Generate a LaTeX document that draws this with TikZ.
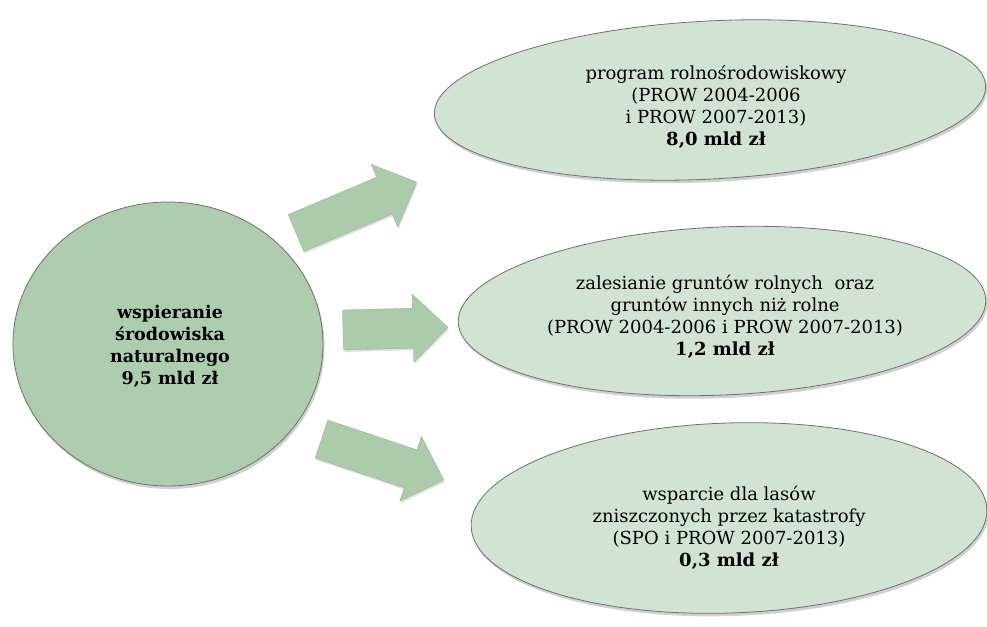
\documentclass[tikz,border=0pt]{standalone}
\usepackage{fontspec}
\setmainfont{DejaVu Serif}
\usetikzlibrary{shapes.geometric,shadows}
\definecolor{circfill}{HTML}{AECDAE}
\definecolor{ellfill}{HTML}{D1E4D4}
\definecolor{arrfill}{HTML}{ABCBAA}
\definecolor{edgecol}{HTML}{707070}
\tikzset{
  softshadow/.style={drop shadow={shadow xshift=1.5pt, shadow yshift=-3pt, opacity=0.3, fill=black!60}},
  bubble/.style={ellipse, draw=edgecol, line width=0.8pt, fill=ellfill, inner sep=0pt, softshadow},
  hub/.style={ellipse, draw=edgecol, line width=0.8pt, fill=circfill, inner sep=0pt, softshadow},
  txt/.style={align=center, font=\fontsize{18}{22}\selectfont, text=black, inner sep=0pt},
  hubtxt/.style={align=center, font=\fontsize{17.5}{22}\selectfont\bfseries, text=black, inner sep=0pt},
  blockarrow/.style={fill=arrfill, draw=arrfill!85!black, line width=0.3pt,
    drop shadow={shadow xshift=1pt, shadow yshift=-2pt, opacity=0.2, fill=black!60}}
}
\newcommand{\blockarr}[3]{%
  \begin{scope}[shift={#1}, rotate=#2]
    \path[blockarrow] (0,-20) -- ({#3-35},-20) -- ({#3-35},-34) -- (#3,0)
      -- ({#3-35},34) -- ({#3-35},20) -- (0,20) -- cycle;
  \end{scope}}
\begin{document}
\begin{tikzpicture}[x=1pt,y=-1pt]
\useasboundingbox (0,0) rectangle (987,626);
\fill[white] (0,0) rectangle (987,626);

% hub
\node[hub, minimum width=310pt, minimum height=284pt] (hub) at (168,344) {};
\node[hubtxt] (hubtext) at (170,346) {wspieranie\\środowiska\\naturalnego\\9,5 mld zł};

% target ellipses
\node[bubble, minimum width=552pt, minimum height=158pt, rotate=3] (topell) at (710,100) {};
\node[txt] (toptext) at (716,107) {program rolnośrodowiskowy\\(PROW 2004-2006\\i PROW 2007-2013)\\\textbf{8,0 mld zł}};

\node[bubble, minimum width=528pt, minimum height=168pt, rotate=2.5] (midell) at (722,311) {};
\node[txt] (midtext) at (725,317) {zalesianie gruntów rolnych~ oraz\\gruntów innych niż rolne\\(PROW 2004-2006 i PROW 2007-2013)\\\textbf{1,2 mld zł}};

\node[bubble, minimum width=516pt, minimum height=190pt, rotate=1.9] (botell) at (729,518) {};
\node[txt] (bottext) at (729,528) {wsparcie dla lasów\\zniszczonych przez katastrofy\\(SPO i PROW 2007-2013)\\\textbf{0,3 mld zł}};

% block arrows
\blockarr{(296,233)}{22.9}{131}
\blockarr{(343,330)}{1.5}{105}
\blockarr{(321.5,439)}{-18.5}{129}
\end{tikzpicture}
\end{document}
